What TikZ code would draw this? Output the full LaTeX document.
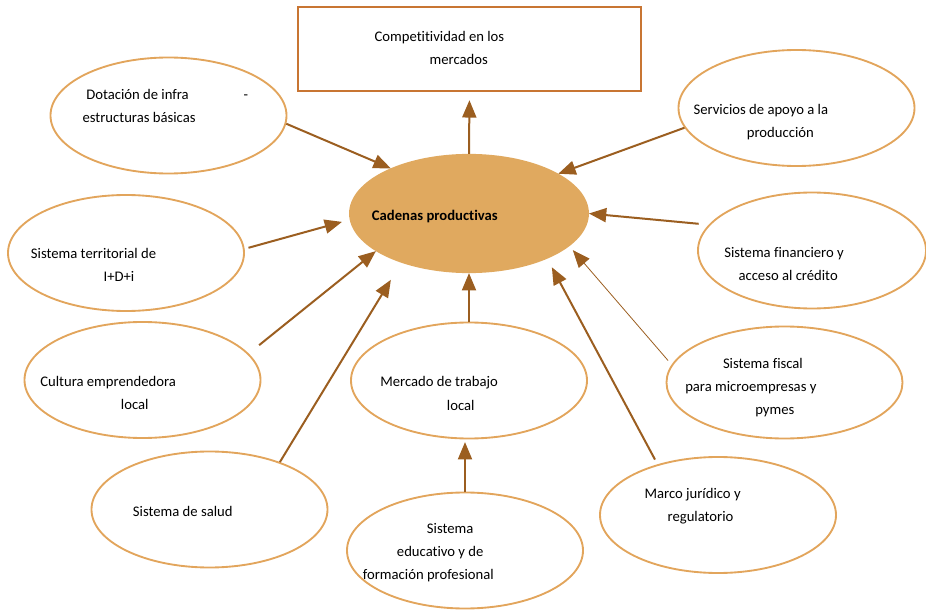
\documentclass[tikz,border=0pt]{standalone}
\usepackage{fontspec}
\setmainfont{Carlito}[Ligatures=NoCommon]
\usepackage{tikz}
\usetikzlibrary{arrows.meta,shapes.geometric,positioning,calc}

\definecolor{ovalline}{HTML}{E2A55C}
\definecolor{corefill}{HTML}{E0A95F}
\definecolor{goalline}{HTML}{C87533}
\definecolor{linkc}{HTML}{9B5E20}

\begin{document}
\begin{tikzpicture}[
    x=0.75pt, y=-0.75pt,
    >={Triangle[length=13pt,width=10.5pt]},
    oval/.style={draw=ovalline, line width=1.4pt, ellipse, minimum width=177pt, minimum height=87pt, inner sep=0pt},
    core/.style={oval, draw=corefill, fill=corefill, minimum width=178.5pt, minimum height=88pt},
    goal/.style={draw=goalline, line width=1.8pt, rectangle, minimum width=257pt, minimum height=63pt},
    txt/.style={anchor=base west, align=left, inner sep=0pt, font=\fontsize{11pt}{17.3pt}\selectfont},
    link/.style={->, color=linkc, line width=1.5pt},
    thinlink/.style={link, line width=0.6pt}
]
    \useasboundingbox (0,0) rectangle (926,610);

    % boxes
    \node[goal] (comp) at (469.5,49) {};
    \node[core] (cad)  at (469,213.5) {};

    \node[oval] (dot)   at (168.5,115.5) {};
    \node[oval] (serv)  at (796.5,108) {};
    \node[oval] (terr)  at (126,253) {};
    \node[oval] (cult)  at (142.5,380) {};
    \node[oval] (salud) at (209.5,509.5) {};
    \node[oval] (mer)   at (469,380.5) {};
    \node[oval] (edu)   at (465,550.5) {};
    \node[oval, minimum width=171pt] (fin) at (812,250.5) {};
    \node[oval, minimum height=84pt] (fis) at (784.5,382.5) {};
    \node[oval] (mar)   at (718,515) {};

    % texts (anchored at the baseline of the last line)
    \node[txt] (comp-txt) at (374.3,64.6) {Competitividad en los\\\hspace*{41.3pt}mercados};
    \node[txt, font=\fontsize{11pt}{17.3pt}\selectfont\bfseries] (cad-txt) at (371.7,220) {Cadenas productivas};
    \node[txt] (dot-txt) at (82.3,122.2) {\hspace*{2.8pt}\makebox[118pt][l]{Dotación de infra}-\\estructuras básicas};
    \node[txt] (serv-txt) at (693.3,137.1) {Servicios de apoyo a la\\\hspace*{40pt}producción};
    \node[txt] (terr-txt) at (30.7,281.2) {Sistema territorial de\\\hspace*{54.5pt}I+D+i};
    \node[txt] (cult-txt) at (40,409.8) {Cultura emprendedora\\\hspace*{60.5pt}local};
    \node[txt] (salud-txt) at (132.7,516.7) {Sistema de salud};
    \node[txt] (mer-txt) at (380,410) {Mercado de trabajo\\\hspace*{50pt}local};
    \node[txt] (edu-txt) at (362.7,579.6) {\hspace*{48pt}Sistema\\\hspace*{25.5pt}educativo y de\\formación profesional};
    \node[txt] (fin-txt) at (724,280.6) {Sistema financiero y\\\hspace*{10.7pt}acceso al crédito};
    \node[txt] (fis-txt) at (685,414.6) {\hspace*{28.3pt}Sistema fiscal\\para microempresas y\\\hspace*{52.5pt}pymes};
    \node[txt] (mar-txt) at (644.3,521.2) {Marco jurídico y\\\hspace*{17.3pt}regulatorio};

    % arrows
    \draw[link] (cad.north) -- (comp.south) [shorten >=6pt];
    \draw[link] (dot.-4) -- (cad.150);
    \draw[link] (serv.190) -- (cad.24);
    \draw[link, shorten <=3pt, shorten >=6pt] (terr.2) -- (cad.183);
    \draw[link, shorten <=10pt] (cult.14) -- (cad.202);
    \draw[link, shorten >=15pt] (salud.34) -- (cad.216);
    \draw[link] (mer.north) -- (cad.south);
    \draw[link, shorten >=2pt] (edu.north) -- (edu.north |- mer.south);
    \draw[link, shorten <=7.5pt] (fin.166) -- (cad.0);
    \draw[thinlink, shorten <=4pt, shorten >=4pt] (fis.171) -- (cad.-18);
    \draw[link, shorten <=4pt, shorten >=7.3pt] (mar.140) -- (cad.-30);

\end{tikzpicture}
\end{document}
